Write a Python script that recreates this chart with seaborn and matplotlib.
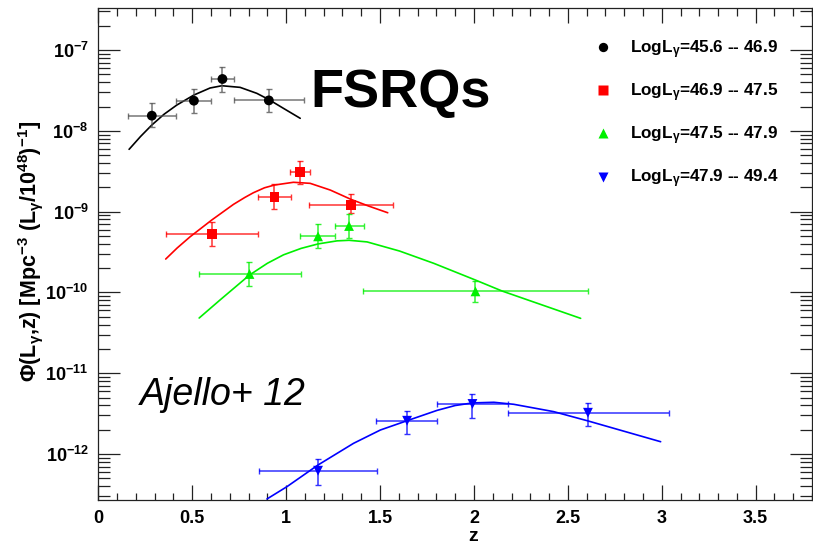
import numpy as np
import pandas as pd
import matplotlib

matplotlib.use("Agg")
import seaborn as sns
import matplotlib.pyplot as plt
from matplotlib.ticker import FixedLocator, LogLocator, MultipleLocator, NullFormatter

# luminosity bins
bins = [
    r"LogL$_{\gamma}$=45.6 -- 46.9",
    r"LogL$_{\gamma}$=46.9 -- 47.5",
    r"LogL$_{\gamma}$=47.5 -- 47.9",
    r"LogL$_{\gamma}$=47.9 -- 49.4",
]
colors = ["#000000", "#ff0000", "#00f000", "#0000ff"]
markers = ["o", "s", "^", "v"]

# measured points: z, z range, phi, phi range
z_pts = [
    [0.285, 0.509, 0.661, 0.908],
    [0.604, 0.938, 1.074, 1.345],
    [0.805, 1.170, 1.335, 2.008],
    [1.170, 1.644, 1.992, 2.607],
]
z_lo = [
    [0.157, 0.414, 0.601, 0.720],
    [0.359, 0.850, 1.022, 1.123],
    [0.537, 1.075, 1.258, 1.409],
    [0.858, 1.480, 1.804, 2.180],
]
z_hi = [
    [0.414, 0.601, 0.720, 1.096],
    [0.850, 1.027, 1.125, 1.567],
    [1.077, 1.262, 1.413, 2.609],
    [1.484, 1.804, 2.180, 3.038],
]
phi_pts = [
    [1.54e-8, 2.36e-8, 4.38e-8, 2.38e-8],
    [5.33e-10, 1.53e-9, 3.06e-9, 1.21e-9],
    [1.69e-10, 4.94e-10, 6.64e-10, 1.03e-10],
    [6.21e-13, 2.58e-12, 4.16e-12, 3.24e-12],
]
phi_lo = [
    [1.10e-8, 1.65e-8, 3.05e-8, 1.72e-8],
    [3.75e-10, 1.08e-9, 2.18e-9, 9.5e-10],
    [1.21e-10, 3.52e-10, 4.75e-10, 7.54e-11],
    [4.10e-13, 1.77e-12, 2.81e-12, 2.24e-12],
]
phi_hi = [
    [2.19e-8, 3.32e-8, 6.21e-8, 3.27e-8],
    [7.43e-10, 2.18e-9, 4.23e-9, 1.64e-9],
    [2.36e-10, 7.03e-10, 9.27e-10, 1.40e-10],
    [8.59e-13, 3.44e-12, 5.47e-12, 4.24e-12],
]

# model curves (log10 phi)
curve_z = [
    [0.164, 0.225, 0.285, 0.350, 0.418, 0.509, 0.595, 0.658, 0.755, 0.844, 0.908, 0.986, 1.075],
    [0.359, 0.420, 0.489, 0.604, 0.720, 0.780, 0.826, 0.885, 0.938, 1.039, 1.128, 1.235, 1.345, 1.439, 1.541],
    [0.537, 0.650, 0.805, 0.900, 0.986, 1.080, 1.170, 1.271, 1.335, 1.431, 1.604, 1.786, 2.008, 2.150, 2.568],
    [0.898, 1.004, 1.170, 1.359, 1.502, 1.644, 1.804, 1.900, 1.992, 2.106, 2.212, 2.425, 2.603, 2.994],
]
curve_logphi = [
    [-8.229, -8.070, -7.928, -7.795, -7.681, -7.557, -7.470, -7.442, -7.462, -7.536, -7.613, -7.722, -7.845],
    [-9.587, -9.450, -9.311, -9.104, -8.910, -8.825, -8.766, -8.705, -8.671, -8.637, -8.650, -8.733, -8.848, -8.931, -9.014],
    [-10.317, -10.090, -9.785, -9.640, -9.535, -9.455, -9.400, -9.362, -9.355, -9.375, -9.488, -9.640, -9.847, -9.983, -10.321],
    [-12.557, -12.405, -12.136, -11.868, -11.703, -11.588, -11.460, -11.400, -11.368, -11.360, -11.385, -11.476, -11.588, -11.848],
]

# labelled decades on the y axis
y_decades = [-12, -11, -10, -9, -8, -7]

sns.set_style("ticks")
plt.rcParams["font.family"] = ["Liberation Sans", "DejaVu Sans"]
plt.rcParams["font.weight"] = "bold"
plt.rcParams["mathtext.fontset"] = "custom"
plt.rcParams["mathtext.rm"] = "Liberation Sans:bold"
plt.rcParams["mathtext.bf"] = "Liberation Sans:bold"
plt.rcParams["mathtext.it"] = "Liberation Sans:bold"
plt.rcParams["mathtext.default"] = "regular"
for key in ["text.color", "axes.labelcolor", "xtick.color", "ytick.color"]:
    plt.rcParams[key] = "black"

pts = pd.DataFrame(
    {
        "bin": np.repeat(bins, 4),
        "z": np.concatenate(z_pts),
        "phi": np.concatenate(phi_pts),
    }
)
curves = pd.concat(
    [
        pd.DataFrame({"bin": b, "z": cz, "phi": 10 ** np.array(cl)})
        for b, cz, cl in zip(bins, curve_z, curve_logphi)
    ]
)
palette = dict(zip(bins, colors))
marker_map = dict(zip(bins, markers))

fig = plt.figure(figsize=(8.13, 5.48), dpi=100)
ax = fig.add_axes([0.1209, 0.0870, 0.8779, 0.8993])
ax.set_yscale("log")

sns.lineplot(
    data=curves, x="z", y="phi", hue="bin", palette=palette,
    sort=False, estimator=None, lw=1.2, legend=False, ax=ax,
)
for i, b in enumerate(bins):
    z = np.array(z_pts[i])
    p = np.array(phi_pts[i])
    xerr = [z - np.array(z_lo[i]), np.array(z_hi[i]) - z]
    yerr = [p - np.array(phi_lo[i]), np.array(phi_hi[i]) - p]
    ecol = "#555555" if i == 0 else colors[i]
    ax.errorbar(
        z, p, xerr=xerr, yerr=yerr, fmt="none", ecolor=ecol,
        elinewidth=1.1, capsize=2.3, capthick=1.0, alpha=0.8, zorder=3,
    )
sns.scatterplot(
    data=pts, x="z", y="phi", hue="bin", style="bin", palette=palette,
    markers=marker_map, s=50, edgecolor="none", legend="full", ax=ax, zorder=4,
)

handles, labels = ax.get_legend_handles_labels()
leg = ax.legend(
    handles, labels, loc="upper left", bbox_to_anchor=(0.731, 0.930),
    bbox_transform=fig.transFigure, frameon=False, fontsize=12.3,
    labelspacing=1.2, handlelength=1.0, handletextpad=1.1,
    borderpad=0, borderaxespad=0, markerscale=0.95,
)

ax.set_xlim(0, 3.8)
ax.set_ylim(2.67e-13, 3.36e-7)
ax.xaxis.set_major_locator(MultipleLocator(0.5))
ax.xaxis.set_minor_locator(MultipleLocator(0.1))
# only decades inside the plotted range, so no hidden label hangs off the figure
ax.yaxis.set_major_locator(FixedLocator(10.0 ** np.array(y_decades)))
ax.yaxis.set_minor_locator(LogLocator(base=10, subs=np.arange(2, 10), numticks=50))
ax.yaxis.set_minor_formatter(NullFormatter())
ax.xaxis.set_major_formatter(plt.FuncFormatter(lambda v, _: "%g" % v))

ax.tick_params(axis="both", which="both", direction="in", top=True, right=True,
               color="#222222", width=0.9)
ax.tick_params(axis="x", which="major", length=10.5, labelsize=13, pad=7)
ax.tick_params(axis="x", which="minor", length=5.4)
ax.tick_params(axis="y", which="major", length=15.5, labelsize=13, pad=7)
ax.tick_params(axis="y", which="minor", length=8.4)
for sp in ax.spines.values():
    sp.set_linewidth(0.9)
    sp.set_color("#222222")

ax.set_xlabel("z", fontsize=14, fontweight="bold")
ax.xaxis.set_label_coords(0.525, -0.057)
ax.set_ylabel(
    r"$\Phi$(L$_{\gamma}$,z) [Mpc$^{-3}$ (L$_{\gamma}$/10$^{48}$)$^{-1}$]",
    fontsize=15.5, fontweight="bold",
)
ax.yaxis.set_label_coords(-0.075, 0.505)

fig.text(310 / 813, 1 - 93 / 548, "FSRQs", fontsize=39, fontweight="bold",
         ha="left", va="center")
fig.text(140 / 813, 1 - 395 / 548, "Ajello+ 12", fontsize=27, fontweight="normal",
         style="italic", ha="left", va="center")

fig.savefig("out.png", dpi=100)
plt.close(fig)
